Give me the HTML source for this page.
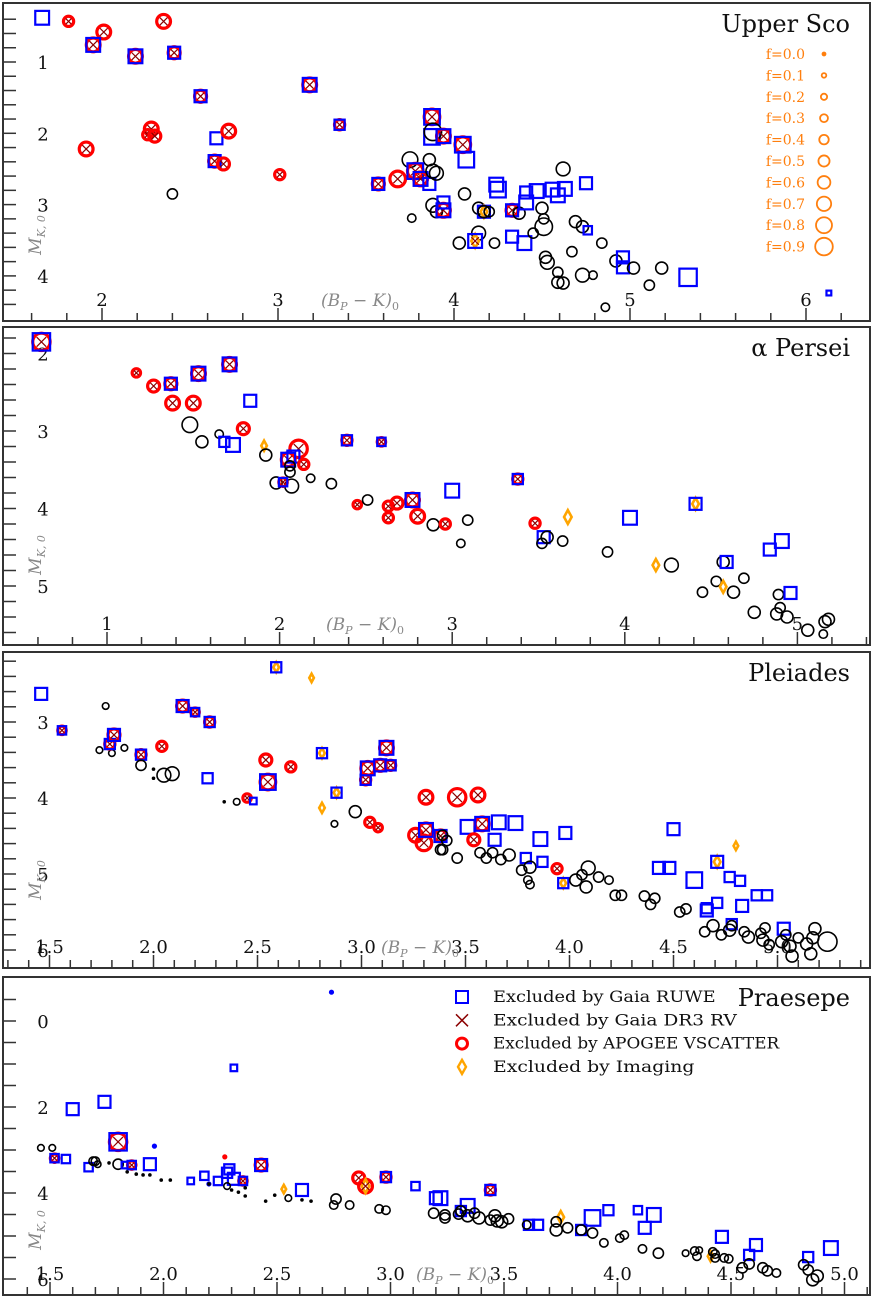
<!DOCTYPE html>
<html><head><meta charset="utf-8">
<style>
html,body{margin:0;padding:0;background:#fff;}
svg{display:block;}
text{font-family:"DejaVu Serif","Liberation Serif",serif;}
</style></head>
<body>
<svg id="chart" width="872" height="1298" viewBox="0 0 872 1298" xmlns="http://www.w3.org/2000/svg"></svg>
<script>
// ---------- Upper Sco ----------
const usColor=[1.66,1.81,2.01,1.95,2.19,2.35,2.41,2.56,1.91,2.28,2.26,2.30,2.65,2.72,2.64,2.69,2.40,3.01,3.18,3.35,3.57,3.68,
3.875,3.875,3.88,3.94,4.05,4.07,3.75,3.86,3.78,3.81,3.86,3.88,3.90,3.76,3.88,3.90,3.94,3.94,4.06,4.14,4.17,4.20,4.17,4.14,4.03,4.12,4.23,4.25,4.24,4.33,4.33,4.37,4.40,4.41,4.41,4.47,4.50,4.51,4.51,4.45,4.56,4.59,4.63,4.62,4.75,4.69,4.73,4.76,4.84,4.53,4.52,4.59,4.67,4.73,4.79,4.59,4.62,4.92,4.96,4.96,5.02,5.11,5.18,5.33,4.86,6.13];
const usMag=[0.38,0.43,0.58,0.76,0.92,0.43,0.87,1.48,2.22,1.94,2.02,2.04,2.07,1.97,2.39,2.43,2.85,2.58,1.32,1.88,2.71,2.64,
1.77,2.05,1.98,2.04,2.16,2.37,2.37,2.37,2.53,2.64,2.71,2.53,2.56,3.19,3.01,3.10,3.08,2.97,2.85,3.05,3.10,3.10,3.10,3.40,3.54,3.51,3.54,2.79,2.72,3.45,3.08,3.12,3.54,2.97,2.83,2.81,3.05,3.31,3.20,3.40,2.79,2.87,2.78,2.50,2.70,3.24,3.31,3.36,3.54,3.81,3.74,3.95,3.66,3.99,3.99,4.09,4.10,3.79,3.88,3.74,3.89,4.13,3.89,4.02,4.44,4.24];
const usF=[0.6,0.4,0.6,0.6,0.6,0.6,0.5,0.5,0.6,0.6,0.4,0.5,0.5,0.6,0.5,0.5,0.4,0.4,0.6,0.4,0.5,0.7,
0.7,0.7,0.8,0.6,0.7,0.7,0.7,0.5,0.7,0.6,0.5,0.6,0.6,0.3,0.6,0.5,0.6,0.5,0.5,0.5,0.5,0.4,0.5,0.6,0.5,0.6,0.4,0.7,0.6,0.5,0.5,0.5,0.6,0.6,0.5,0.6,0.5,0.8,0.4,0.4,0.6,0.6,0.6,0.6,0.5,0.5,0.5,0.3,0.4,0.6,0.5,0.4,0.4,0.6,0.3,0.5,0.5,0.5,0.5,0.5,0.5,0.4,0.5,0.8,0.3,0.1];
const usType=["b","rx","rx","brx","brx","rx","brx","brx","rx","rx","rx","rx","b","rx","brx","rx","","rx","brx","brx","brx","rx",
"brx","b","","brx","brx","b","","","brx","brx","b","","","","","","brx","b","","","bo","","","","","bxo","","b","b","b","brx","","b","b","b","b","","","","","b","b","b","","b","","","b","","","","","","","","","","","b","b","","","","b","","b"];

// ---------- alpha Persei ----------
const apColor=[0.62,1.17,1.27,1.37,1.38,1.50,1.53,1.71,1.83,1.48,1.55,1.65,1.68,1.73,1.79,1.91,1.92,2.11,2.05,2.08,2.14,2.06,2.06,1.98,2.07,2.02,2.18,2.30,2.39,2.59,2.45,2.51,2.63,2.68,2.63,2.77,2.80,2.89,2.96,3.09,3.05,3.00,3.38,3.48,3.53,3.55,3.52,3.64,3.67,3.90,4.03,4.18,4.27,4.41,4.57,4.59,4.53,4.57,4.63,4.45,4.69,4.75,4.84,4.91,4.89,4.90,4.94,4.88,4.96,5.06,5.16,5.18,5.15];
const apMag=[1.85,2.25,2.42,2.39,2.64,2.64,2.26,2.14,2.61,2.92,3.14,3.04,3.14,3.18,2.97,3.19,3.31,3.23,3.37,3.33,3.43,3.53,3.45,3.67,3.71,3.66,3.61,3.68,3.12,3.14,3.95,3.89,3.97,3.93,4.12,3.89,4.10,4.21,4.20,4.15,4.45,3.77,3.62,4.19,4.37,4.37,4.45,4.42,4.11,4.56,4.12,4.73,4.73,3.94,4.69,4.69,4.94,5.01,5.08,5.08,4.90,5.34,4.53,4.42,5.11,5.28,5.40,5.36,5.09,5.57,5.46,5.43,5.62];
const apF=[0.8,0.3,0.5,0.5,0.6,0.6,0.6,0.6,0.5,0.7,0.5,0.3,0.4,0.6,0.5,0.4,0.5,0.8,0.6,0.5,0.4,0.4,0.4,0.5,0.6,0.3,0.3,0.4,0.4,0.3,0.3,0.4,0.4,0.5,0.4,0.6,0.6,0.5,0.4,0.4,0.3,0.6,0.4,0.4,0.5,0.5,0.4,0.4,0.6,0.4,0.6,0.5,0.6,0.5,0.5,0.5,0.4,0.5,0.5,0.4,0.4,0.5,0.5,0.6,0.4,0.4,0.5,0.5,0.5,0.5,0.5,0.5,0.3];
const apType=["brx","rx","rx","brx","rx","rx","brx","brx","b","","","","b","b","rx","o","","rx","brx","b","rx","","","","","brx","","","brx","brx","rx","","rx","rx","rx","brx","rx","","rx","","","b","brx","rx","b","","","","o","","b","o","","bo","","b","","o","","","","","b","b","","","","","b","","","",""];

// ---------- Pleiades ----------
const plColor=[1.46,1.56,1.77,1.74,1.80,1.86,1.79,1.81,1.94,1.94,2.00,2.00,2.05,2.09,2.04,2.14,2.20,2.27,2.26,2.34,2.40,2.45,2.48,2.54,2.55,2.66,2.59,2.76,2.81,2.81,2.88,2.87,2.97,3.02,3.03,3.09,3.14,3.12,3.04,3.08,3.31,3.26,3.30,3.31,3.38,3.38,
3.46,3.56,3.51,3.58,3.66,3.74,3.39,3.41,3.39,3.46,3.54,3.64,3.57,3.60,3.63,3.67,3.71,3.79,3.77,3.81,3.86,3.98,3.87,3.94,3.97,3.80,3.81,4.03,4.06,4.09,4.08,4.14,4.19,4.22,4.25,4.36,4.39,4.41,4.53,4.56,4.43,4.48,4.50,4.60,4.71,4.71,4.80,4.77,4.82,4.66,4.66,4.83,4.90,4.95,4.78,4.78,5.03,
4.65,4.69,4.73,4.77,4.84,4.86,4.92,4.94,4.93,4.96,5.02,5.04,5.06,5.07,5.10,5.14,5.17,5.18,5.24,5.16];
const plMag=[2.63,3.11,2.79,3.37,3.41,3.34,3.29,3.17,3.43,3.57,3.62,3.74,3.70,3.68,3.32,2.79,2.87,3.00,3.74,4.05,4.05,4.00,4.04,3.50,3.79,3.59,2.28,2.42,3.41,4.13,3.93,4.34,4.18,3.76,3.61,3.57,3.57,3.34,4.32,4.39,3.99,4.49,4.59,4.42,4.50,4.68,
3.99,3.96,4.38,4.34,4.32,4.33,4.49,4.56,4.68,4.79,4.55,4.55,4.72,4.79,4.72,4.81,4.75,4.79,4.95,4.91,4.54,4.46,4.84,4.93,5.12,5.08,5.14,5.08,5.01,4.92,5.17,5.04,5.08,5.28,5.28,5.29,5.40,5.32,5.50,5.46,4.92,4.92,4.41,5.08,5.38,4.84,4.63,5.04,5.09,5.45,5.48,5.42,5.28,5.28,5.66,5.68,5.72,
5.76,5.68,5.80,5.74,5.76,5.83,5.78,5.71,5.87,5.93,5.89,5.80,5.95,6.08,5.84,5.92,5.84,5.72,5.89,6.05];
const plF=[0.5,0.3,0.2,0.2,0.2,0.2,0.4,0.5,0.4,0.4,0.1,0.05,0.6,0.6,0.4,0.5,0.3,0.4,0.4,0.05,0.2,0.3,0.2,0.5,0.7,0.4,0.4,0.3,0.4,0.4,0.4,0.2,0.5,0.4,0.6,0.5,0.4,0.6,0.4,0.3,0.6,0.6,0.7,0.6,0.5,0.4,
0.8,0.6,0.6,0.6,0.6,0.6,0.4,0.4,0.4,0.4,0.5,0.5,0.4,0.4,0.4,0.4,0.5,0.4,0.4,0.5,0.6,0.5,0.4,0.4,0.4,0.3,0.3,0.5,0.4,0.6,0.5,0.4,0.3,0.4,0.4,0.4,0.4,0.4,0.4,0.4,0.5,0.5,0.5,0.7,0.4,0.5,0.3,0.4,0.4,0.4,0.5,0.5,0.4,0.4,0.4,0.4,0.5,
0.4,0.5,0.4,0.5,0.4,0.5,0.4,0.4,0.5,0.4,0.5,0.4,0.5,0.5,0.4,0.5,0.5,0.5,0.9,0.5];
const plType=["b","brx","","","","","brx","brx","brx","","","","","","rx","brx","brx","brx","b","","","rx","b","rx","brx","rx","bo","o","bo","o","bo","","","brx","brx","brx","brx","brx","rx","rx","rx","rx","rx","brx","brx","",
"rx","rx","b","brx","b","b","","","","","rx","b","","","","","","b","","","b","b","b","rx","bo","","","","","","","","","","","","","","","","b","b","b","b","b","bo","o","b","b","b","b","b","b","b","b","","b",
"","","","","","","","","","","","","","","","","","","",""];

// ---------- Praesepe ----------
const prColor=[2.74,2.31,1.60,1.74,1.80,1.46,1.51,1.52,1.57,1.67,1.69,1.70,1.71,1.76,1.80,1.83,1.86,1.94,1.96,2.12,2.18,2.20,2.24,2.28,2.29,2.31,2.35,2.27,2.43,2.53,2.61,2.76,2.86,2.89,2.98,3.11,3.20,3.22,3.31,3.34,3.44,3.61,3.65,3.75,3.84,3.89,3.96,4.09,4.16,4.12,4.46,4.58,4.61,4.41,4.84,4.94,
1.84,1.88,1.91,1.94,1.99,2.03,2.20,2.28,2.30,2.33,2.36,2.36,2.45,2.49,2.55,2.61,2.65,2.75,2.82,2.95,2.98,3.19,3.24,3.24,3.30,3.31,3.34,3.37,3.39,3.44,3.46,3.47,3.49,3.52,3.60,3.73,3.73,3.78,3.84,3.89,3.94,4.01,4.03,4.11,4.18,4.30,4.34,4.35,4.36,4.42,4.43,4.43,4.47,4.49,4.55,4.58,4.64,4.66,4.70,4.82,4.84,4.86,4.88];
const prMag=[-0.67,1.09,2.05,1.88,2.81,2.95,2.95,3.19,3.21,3.40,3.26,3.26,3.33,3.30,3.33,3.35,3.35,3.33,2.91,3.72,3.60,3.79,3.72,3.53,3.45,3.67,3.72,3.16,3.35,3.91,3.93,4.14,3.65,3.84,3.63,3.84,4.12,4.12,4.42,4.30,3.93,4.74,4.74,4.56,4.86,4.58,4.40,4.40,4.51,4.81,5.02,5.44,5.21,5.47,5.49,5.28,
3.51,3.56,3.58,3.58,3.70,3.70,3.79,3.84,3.93,3.98,3.88,4.07,4.19,4.05,4.12,4.16,4.19,4.28,4.28,4.37,4.40,4.47,4.51,4.58,4.49,4.42,4.53,4.47,4.58,4.63,4.53,4.65,4.67,4.60,4.74,4.67,4.86,4.81,4.86,4.93,5.16,5.05,4.98,5.30,5.40,5.40,5.35,5.47,5.33,5.37,5.42,5.51,5.51,5.53,5.74,5.65,5.74,5.81,5.86,5.67,5.79,6.02,5.93];
const prF=[0.05,0.2,0.5,0.5,0.8,0.2,0.2,0.3,0.3,0.3,0.3,0.3,0.2,0.1,0.4,0.2,0.3,0.5,0.05,0.2,0.3,0.05,0.3,0.4,0.4,0.5,0.3,0.1,0.5,0.3,0.5,0.4,0.5,0.6,0.4,0.3,0.5,0.6,0.4,0.6,0.4,0.4,0.4,0.5,0.4,0.7,0.4,0.3,0.6,0.5,0.5,0.4,0.5,0.4,0.4,0.6,
0.05,0.05,0.05,0.05,0.05,0.05,0.05,0.2,0.05,0.05,0.05,0.05,0.05,0.05,0.2,0.05,0.05,0.3,0.3,0.3,0.3,0.4,0.4,0.4,0.4,0.4,0.5,0.4,0.5,0.4,0.5,0.5,0.5,0.4,0.3,0.4,0.5,0.4,0.4,0.4,0.3,0.3,0.3,0.3,0.4,0.2,0.3,0.3,0.2,0.3,0.3,0.3,0.3,0.3,0.4,0.4,0.4,0.4,0.3,0.4,0.4,0.5,0.5];
const prType=["bd","b","b","b","brx","","","brx","b","b","","","","","","b","brx","b","bd","b","b","bd","b","b","b","b","brx","rd","brx","o","b","","rx","rxo","brx","b","b","b","b","b","brx","b","b","o","b","b","b","b","b","b","b","b","b","o","b","b",
"","","","","","","","","","","","","","","","","","","","","","","","","","","","","","","","","","","","","","","","","","","","","","","","","","","","","","","","","","","",""];

// ---------- legend data ----------
const legendF=["0.0","0.1","0.2","0.3","0.4","0.5","0.6","0.7","0.8","0.9"];
const legendLabels=["Excluded by Gaia RUWE","Excluded by Gaia DR3 RV","Excluded by APOGEE VSCATTER","Excluded by Imaging"];

const NS="http://www.w3.org/2000/svg";
const svg=document.getElementById('chart');
function el(tag,attrs,parent){const e=document.createElementNS(NS,tag);for(const k in attrs)e.setAttribute(k,attrs[k]);(parent||svg).appendChild(e);return e;}

const panels=[
 {name:"upper-sco",title:"Upper Sco",top:3,bottom:321,x0:2,px0:102,sx:176,y0:1,py0:62,sy:71.3,
  xMin:1.4,xMax:6.3,xMinor:0.2,xMajor:1,xDec:0,yMin:0.2,yMax:4.6,yMinor:0.2,yMajor:1,ylabs:[1,2,3,4],
  xlabX:360,ylabY:235,color:usColor,mag:usMag,f:usF,type:usType},
 {name:"alpha-persei",title:"α Persei",top:327,bottom:645,x0:1,px0:107,sx:172.6,y0:3,py0:431,sy:77.5,
  xMin:0.4,xMax:5.4,xMinor:0.2,xMajor:1,xDec:0,yMin:1.7,yMax:5.7,yMinor:0.2,yMajor:1,ylabs:[2,3,4,5],
  xlabX:365,ylabY:555,color:apColor,mag:apMag,f:apF,type:apType},
 {name:"pleiades",title:"Pleiades",top:652,bottom:968,x0:1.5,px0:49.5,sx:208,y0:3,py0:722,sy:76,
  xMin:1.3,xMax:5.5,xMinor:0.1,xMajor:0.5,xDec:1,yMin:2.1,yMax:6.2,yMinor:0.2,yMajor:1,ylabs:[3,4,5,6],
  xlabX:420,ylabY:880,color:plColor,mag:plMag,f:plF,type:plType},
 {name:"praesepe",title:"Praesepe",top:977,bottom:1295,x0:1.5,px0:50,sx:227,y0:0,py0:1021,sy:43,
  xMin:1.3,xMax:5.3,xMinor:0.1,xMajor:0.5,xDec:1,yMin:-1,yMax:6.3,yMinor:0.5,yMajor:2,ylabs:[0,2,4,6],
  xlabX:455,ylabY:1230,color:prColor,mag:prMag,f:prF,type:prType}
];
const L=3,R=870;

panels.forEach(p=>{
  const g=el('g',{});
  
  
  const X=v=>p.px0+(v-p.x0)*p.sx;
  const Y=v=>p.py0+(v-p.y0)*p.sy;
  const clip='clip-'+p.name;
  const cp=el('clipPath',{id:clip},g);
  el('rect',{x:L,y:p.top,width:R-L,height:p.bottom-p.top},cp);
  const fr=el('rect',{x:L,y:p.top,width:R-L,height:p.bottom-p.top,fill:'none',stroke:'#333','stroke-width':2},g);
  
  
  const tg=el('g',{stroke:'#333','stroke-width':1.5},g);
  
  
  for(let v=Math.ceil(p.xMin/p.xMinor)*p.xMinor;v<=p.xMax+1e-9;v+=p.xMinor){
    const px=X(v);if(px<L+4||px>R-2)continue;
    const maj=Math.abs(v/p.xMajor-Math.round(v/p.xMajor))<1e-6;
    el('line',{x1:px,x2:px,y1:p.bottom,y2:p.bottom-(maj?13:8)},tg);
  }
  for(let v=Math.ceil(p.yMin/p.yMinor)*p.yMinor;v<=p.yMax+1e-9;v+=p.yMinor){
    const py=Y(v);if(py<p.top+3||py>p.bottom-3)continue;
    el('line',{x1:L,x2:L+13,y1:py,y2:py},tg);
  }
  for(let v=Math.ceil(p.xMin/p.xMajor)*p.xMajor;v<=p.xMax+1e-9;v+=p.xMajor){
    const px=X(v);if(px<L+10||px>R-10)continue;
    const t=el('text',{x:px,y:p.bottom-15,'text-anchor':'middle','font-size':18,fill:'#111'},g);
    t.textContent=v.toFixed(p.xDec);
    
    
  }
  p.ylabs.forEach(v=>{
    const t=el('text',{x:43,y:Y(v)+7,'text-anchor':'middle','font-size':18,fill:'#111'},g);
    t.textContent=String(v);
    
    
  });
  const xt=el('text',{x:p.xlabX,y:p.bottom-15,'text-anchor':'middle','font-size':17,fill:'#888','font-style':'italic'},g);
  xt.innerHTML='(B<tspan font-size="11" dy="4">P</tspan><tspan dy="-4" font-style="normal"> − </tspan>K)<tspan font-size="11" dy="4" font-style="normal">0</tspan>';
  
  
  const yt=el('text',{x:0,y:0,transform:`translate(41,${p.ylabY}) rotate(-90)`,'text-anchor':'middle','font-size':17,fill:'#888','font-style':'italic'},g);
  yt.innerHTML='M<tspan font-size="11" dy="4">K, 0</tspan>';
  
  
  const tt=el('text',{x:850,y:p.top+29,'text-anchor':'end','font-size':24,fill:'#111'},g);
  tt.textContent=p.title;
  
  
  const pg=el('g',{'clip-path':`url(#${clip})`},g);
  
  
  for(let i=0;i<p.color.length;i++){
    const cx=X(p.color[i]),cy=Y(p.mag[i]),f=p.f[i],ty=p.type[i]||'';
    const r=1.5+9*f;
    const sg=el('g',{},pg);
    
    
    if(ty===''){
      if(r<2.5) el('circle',{cx,cy,r:1.8,fill:'#000'},sg);
      else el('circle',{cx,cy,r,fill:'none',stroke:'#000','stroke-width':1.6},sg);
      continue;
    }
    if(ty.includes('d')){ el('circle',{cx,cy,r:2.6,fill:ty.includes('r')?'#f00':(ty.includes('b')?'#00f':'#000')},sg); continue; }
    if(ty.includes('r')) el('circle',{cx,cy,r:Math.max(r,3),fill:'none',stroke:'#f00','stroke-width':3.2},sg);
    if(ty.includes('o')) el('path',{d:`M${cx},${cy-r} L${cx+r*0.55},${cy} L${cx},${cy+r} L${cx-r*0.55},${cy} Z`,fill:'#fff',stroke:'#ffa500','stroke-width':2.6},sg);
    if(ty.includes('b')) el('rect',{x:cx-r,y:cy-r,width:2*r,height:2*r,fill:'none',stroke:'#00f','stroke-width':2.2},sg);
    if(ty.includes('x')){const h=r*0.55;el('path',{d:`M${cx-h},${cy-h}L${cx+h},${cy+h}M${cx-h},${cy+h}L${cx+h},${cy-h}`,stroke:'#8b0000','stroke-width':1.2},sg);}
  }
});

const fl=el('g',{});


legendF.forEach((s,i)=>{
  const y=54+i*21.4;
  const t=el('text',{x:805,y:y+5,'text-anchor':'end','font-size':14,fill:'#ff7f0e'},fl);
  t.textContent='f='+s;
  
  
  const r=1.5+9*parseFloat(s)*0.9;
  const c=el('circle',{cx:824,cy:y,r:Math.max(r,1.2),fill:parseFloat(s)===0?'#ff7f0e':'none',stroke:'#ff7f0e','stroke-width':1.8},fl);
  
  
});

const el2=el('g',{});


legendLabels.forEach((s,i)=>{
  const y=997+i*23.3, x=462;
  if(i===0) el('rect',{x:x-6,y:y-6,width:12,height:12,fill:'none',stroke:'#00f','stroke-width':2},el2);
  if(i===1) el('path',{d:`M${x-6},${y-6}L${x+6},${y+6}M${x-6},${y+6}L${x+6},${y-6}`,stroke:'#8b0000','stroke-width':1.5},el2);
  if(i===2) el('circle',{cx:x,cy:y,r:5.5,fill:'none',stroke:'#f00','stroke-width':3},el2);
  if(i===3) el('path',{d:`M${x},${y-7}L${x+4},${y}L${x},${y+7}L${x-4},${y}Z`,fill:'none',stroke:'#ffa500','stroke-width':2.4},el2);
  const t=el('text',{x:493,y:y+5,'font-size':16,fill:'#111',textLength:s.length*10.6,lengthAdjust:'spacingAndGlyphs'},el2);
  t.textContent=s;
  
  
});
</script>
</body></html>
